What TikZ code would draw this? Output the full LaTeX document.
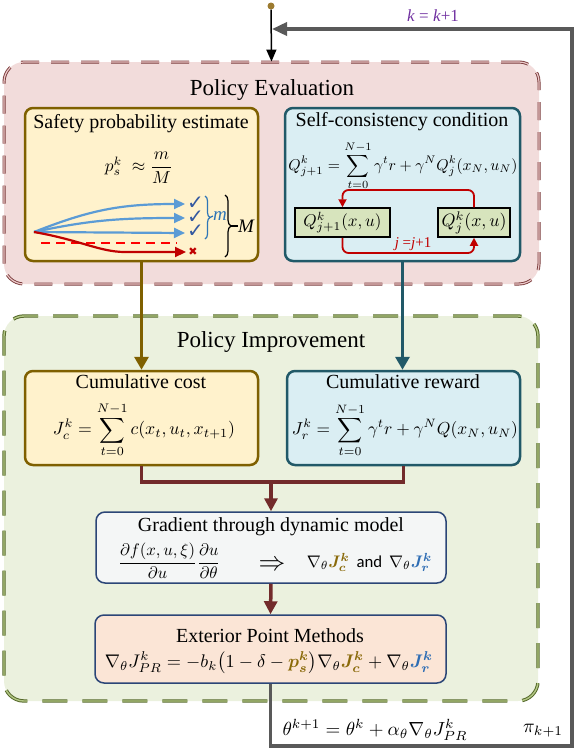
\documentclass[tikz,border=0pt]{standalone}
\usepackage{fontspec}
\setmainfont{Liberation Serif}
\newfontfamily\carl{Carlito}
\newfontfamily\dejavu{DejaVu Sans}
\usepackage{amsmath,bm,graphicx}
\usetikzlibrary{arrows.meta,decorations.pathreplacing,calc}
\definecolor{pefill}{HTML}{F2DCDB}
\definecolor{pedraw}{HTML}{7A3A3A}
\definecolor{pedbl}{HTML}{ECCACA}
\definecolor{pifill}{HTML}{EBF1DE}
\definecolor{pidraw}{HTML}{55692A}
\definecolor{pidbl}{HTML}{B3C785}
\definecolor{yelfill}{HTML}{FFF2CC}
\definecolor{yeldraw}{HTML}{7F6000}
\definecolor{bluefill}{HTML}{DAEEF3}
\definecolor{bluedraw}{HTML}{215968}
\definecolor{qfill}{HTML}{D7E4BD}
\definecolor{gradfill}{HTML}{F4F6F6}
\definecolor{navy}{HTML}{2B4677}
\definecolor{epmfill}{HTML}{FBE5D6}
\definecolor{darkred}{HTML}{722B2B}
\definecolor{loopgray}{HTML}{595959}
\definecolor{lineblue}{HTML}{5B9BD5}
\definecolor{checkblue}{HTML}{3358A0}
\definecolor{bracecol}{HTML}{2E75B6}
\definecolor{redc}{HTML}{C00000}
\definecolor{redd}{HTML}{FF0000}
\definecolor{olivej}{HTML}{8A6A0A}
\definecolor{bluej}{HTML}{2E6DB4}
\definecolor{purp}{HTML}{7030A0}
\definecolor{dotc}{HTML}{9C7B30}
\tikzset{
  pebox/.style={draw=pedraw, double=pedbl, double distance=1.2pt, line width=0.9pt,
    dash pattern=on 18pt off 12pt, rounded corners=20pt, fill=pefill, inner sep=0pt},
  pibox/.style={draw=pidraw, double=pidbl, double distance=1.4pt, line width=1pt,
    dash pattern=on 25pt off 15pt, rounded corners=20pt, fill=pifill, inner sep=0pt},
  ybox/.style={draw=yeldraw, fill=yelfill, line width=2.5pt, rounded corners=8pt, inner sep=0pt},
  bbox/.style={draw=bluedraw, fill=bluefill, line width=2.5pt, rounded corners=8pt, inner sep=0pt},
  qbox/.style={draw=black, fill=qfill, line width=1.5pt, inner sep=0pt},
  gbox/.style={draw=navy, fill=gradfill, line width=1.5pt, rounded corners=9pt, inner sep=0pt},
  ebox/.style={draw=navy, fill=epmfill, line width=1.5pt, rounded corners=9pt, inner sep=0pt},
  sectitle/.style={inner sep=0pt, font=\fontsize{23}{27}\selectfont},
  boxtitle/.style={inner sep=0pt, font=\fontsize{20}{24}\selectfont},
  formula/.style={inner sep=0pt},
  olivearrow/.style={draw=yeldraw, line width=3.5pt, -{Triangle[length=13pt,width=14pt]}},
  tealarrow/.style={draw=bluedraw, line width=3.5pt, -{Triangle[length=13pt,width=14pt]}},
  redarrow/.style={draw=darkred, line width=3.5pt, -{Triangle[length=13pt,width=13pt]}},
  redline/.style={draw=darkred, line width=3.5pt},
  grayarrow/.style={draw=loopgray, line width=3.5pt, -{Triangle[length=15pt,width=13pt]}},
  loopline/.style={draw=redc, line width=1.8pt, rounded corners=6pt, -{Triangle[length=8pt,width=8pt]}},
  bluearrow/.style={draw=lineblue, line width=2.2pt, -{Triangle[length=11pt,width=10pt]}},
  checkmk/.style={inner sep=0pt, text=checkblue, font=\dejavu\fontsize{20}{20}\selectfont},
}
\begin{document}
\begin{tikzpicture}[x=1pt,y=-1pt]
\useasboundingbox (0,0) rectangle (576,750);
% ---------- containers
\node[pebox, minimum width=535pt, minimum height=222pt] (pe) at (271.5,173) {};
\node[sectitle] (pet) at (272,90) {Policy Evaluation};
\node[pibox, minimum width=534pt, minimum height=385pt] (pi) at (271,508.5) {};
\node[sectitle] (pit) at (271,342) {Policy Improvement};
% ---------- safety box
\node[ybox, minimum width=233pt, minimum height=153pt] (safety) at (141.5,184.5) {};
\node[boxtitle] (safetyt) at (141,124) {Safety probability estimate};
\node[formula] (psk) at (139,168) {\resizebox{68pt}{!}{$p_s^k\;\approx\dfrac{m}{M}$}};
\coordinate (o) at (34,232);
\coordinate (b1) at (185,204);
\coordinate (b2) at (185,218);
\coordinate (b3) at (185,233);
\draw[bluearrow] (o) .. controls (90,210) and (120,204) .. (b1);
\draw[bluearrow] (o) .. controls (90,220) and (120,218) .. (b2);
\draw[bluearrow] (o) -- (b3);
\coordinate (rd1) at (41,243);
\coordinate (rd2) at (177,243);
\draw[draw=redd, line width=1.6pt, dash pattern=on 9pt off 6pt] (rd1) -- (rd2);
\coordinate (rt) at (186,252);
\draw[draw=redc, line width=2.2pt, -{Triangle[length=11pt,width=10pt]}] (o) .. controls (80,240) and (100,252) .. (125,252) -- (rt);
\node[inner sep=0pt, text=redc, font=\dejavu\fontsize{11}{11}\selectfont] (xmark) at (193,252) {✖};
\node[checkmk] (c1) at (195.5,203) {✓};
\node[checkmk] (c2) at (195.5,217) {✓};
\node[checkmk] (c3) at (195.5,231) {✓};
\coordinate (mb1) at (205,196);
\coordinate (mb2) at (205,239);
\draw[draw=bracecol, line width=1.2pt, decorate, decoration={brace, amplitude=5pt}] (mb1) -- (mb2);
\node[inner sep=0pt, text=bracecol, font=\fontsize{19}{19}\selectfont\itshape] (mlab) at (220,216) {m};
\coordinate (mt) at (210,217.5);
\draw[draw=bracecol, line width=1.2pt] (mt) -- (mlab.west);
\coordinate (Mb1) at (225,195);
\coordinate (Mb2) at (225,257);
\draw[draw=black, line width=1.2pt, decorate, decoration={brace, amplitude=6pt}] (Mb1) -- (Mb2);
\node[inner sep=0pt, font=\fontsize{19}{19}\selectfont\itshape] (Mlab) at (246,226) {M};
\coordinate (Mt) at (231,226);
\draw[line width=1.2pt] (Mt) -- (Mlab.west);
% ---------- self-consistency box
\node[bbox, minimum width=235pt, minimum height=153pt] (self) at (402.5,184.5) {};
\node[boxtitle] (selft) at (402,122) {Self-consistency condition};
\node[formula] (qform) at (403,166) {\resizebox{229pt}{!}{$\displaystyle Q_{j+1}^k=\sum_{t=0}^{N-1}\gamma^t r+\gamma^N Q_j^k(x_N,u_N)$}};
\node[qbox, minimum width=95pt, minimum height=29pt] (qL) at (342.5,222.5) {\resizebox{78pt}{!}{$Q_{j+1}^k(x,u)$}};
\node[qbox, minimum width=72pt, minimum height=29pt] (qR) at (474,222.5) {\resizebox{65pt}{!}{$Q_j^k(x,u)$}};
\coordinate (lt) at (342.5,190);
\coordinate (rtop) at (474,190);
\coordinate (lb) at (342.5,253);
\coordinate (rb) at (474,253);
\draw[loopline] (qR.north) -- (rtop) -- (lt) -- (qL.north);
\draw[loopline] (qL.south) -- (lb) -- (rb) -- (qR.south);
\node[inner sep=0pt, text=redc, font=\fontsize{15}{15}\selectfont] (jlab) at (413,244) {\textit{j} =\textit{j}+1};
% ---------- cumulative boxes
\node[ybox, minimum width=233pt, minimum height=94pt] (cost) at (141.5,418) {};
\node[boxtitle] (costt) at (141,382) {Cumulative cost};
\node[formula] (jc) at (144,430) {\resizebox{182pt}{!}{$\displaystyle J_c^k=\sum_{t=0}^{N-1}c(x_t,u_t,x_{t+1})$}};
\node[bbox, minimum width=233pt, minimum height=94pt] (reward) at (403.5,418) {};
\node[boxtitle] (rewardt) at (403,382) {Cumulative reward};
\node[formula] (jr) at (405,430) {\resizebox{226pt}{!}{$\displaystyle J_r^k=\sum_{t=0}^{N-1}\gamma^t r+\gamma^N Q(x_N,u_N)$}};
% ---------- gradient box
\node[gbox, minimum width=350pt, minimum height=71pt] (grad) at (271,547.5) {};
\node[boxtitle] (gradt) at (271,527) {Gradient through dynamic model};
\node[formula] (gform) at (275,561) {\resizebox{314pt}{!}{$\dfrac{\partial f(x,u,\xi)}{\partial u}\dfrac{\partial u}{\partial\theta}\qquad\mathrel{\raisebox{-0.45ex}{\scalebox{1.6}{$\Rightarrow$}}}\quad\nabla_\theta{\color{olivej}\bm{J}_{\bm c}^{\bm k}}$\ \,{\carl and}\, $\nabla_\theta{\color{bluej}\bm{J}_{\bm r}^{\bm k}}$}};
% ---------- exterior point box
\node[ebox, minimum width=351pt, minimum height=68pt] (epm) at (270.5,649) {};
\node[boxtitle] (epmt) at (270,636) {Exterior Point Methods};
\node[formula] (eform) at (269,663) {\resizebox{328pt}{!}{$\nabla_\theta J_{PR}^k=-b_k\bigl(1-\delta-{\color{olivej}\bm{p}_{\bm s}^{\bm k}}\bigr)\nabla_\theta{\color{olivej}\bm{J}_{\bm c}^{\bm k}}+\nabla_\theta{\color{bluej}\bm{J}_{\bm r}^{\bm k}}$}};
% ---------- connectors
\draw[olivearrow] (safety.south) -- (cost.north);
\draw[tealarrow] (self.south) -- (self.south |- reward.north);
\coordinate (jn) at (271,482);
\draw[redline] (cost.south) |- (jn);
\draw[redline] (reward.south) |- (jn);
\draw[redarrow] (jn) -- (grad.north);
\draw[redarrow] (grad.south) -- (epm.north);
% ---------- outer loop
\coordinate (g1) at (572,746);
\coordinate (g2) at (572,29);
\coordinate (g3) at (272,29);
\draw[grayarrow] (epm.south) |- (g1) -- (g2) -- (g3);
\node[circle, fill=dotc, inner sep=0pt, minimum size=7pt] (dot) at (271,6) {};
\draw[line width=1.5pt, -{Triangle[length=12pt,width=10pt]}] (dot) -- (pe.north);
\node[inner sep=0pt, text=purp, font=\fontsize{17}{17}\selectfont] (klab) at (433,16) {\textit{k} = \textit{k}+1};
\node[formula] (thform) at (375,730) {\resizebox{185pt}{!}{$\theta^{k+1}=\theta^k+\alpha_\theta\nabla_\theta J_{PR}^k$}};
\node[formula] (pik) at (543,731) {\resizebox{40pt}{!}{$\pi_{k+1}$}};
\end{tikzpicture}
\end{document}
